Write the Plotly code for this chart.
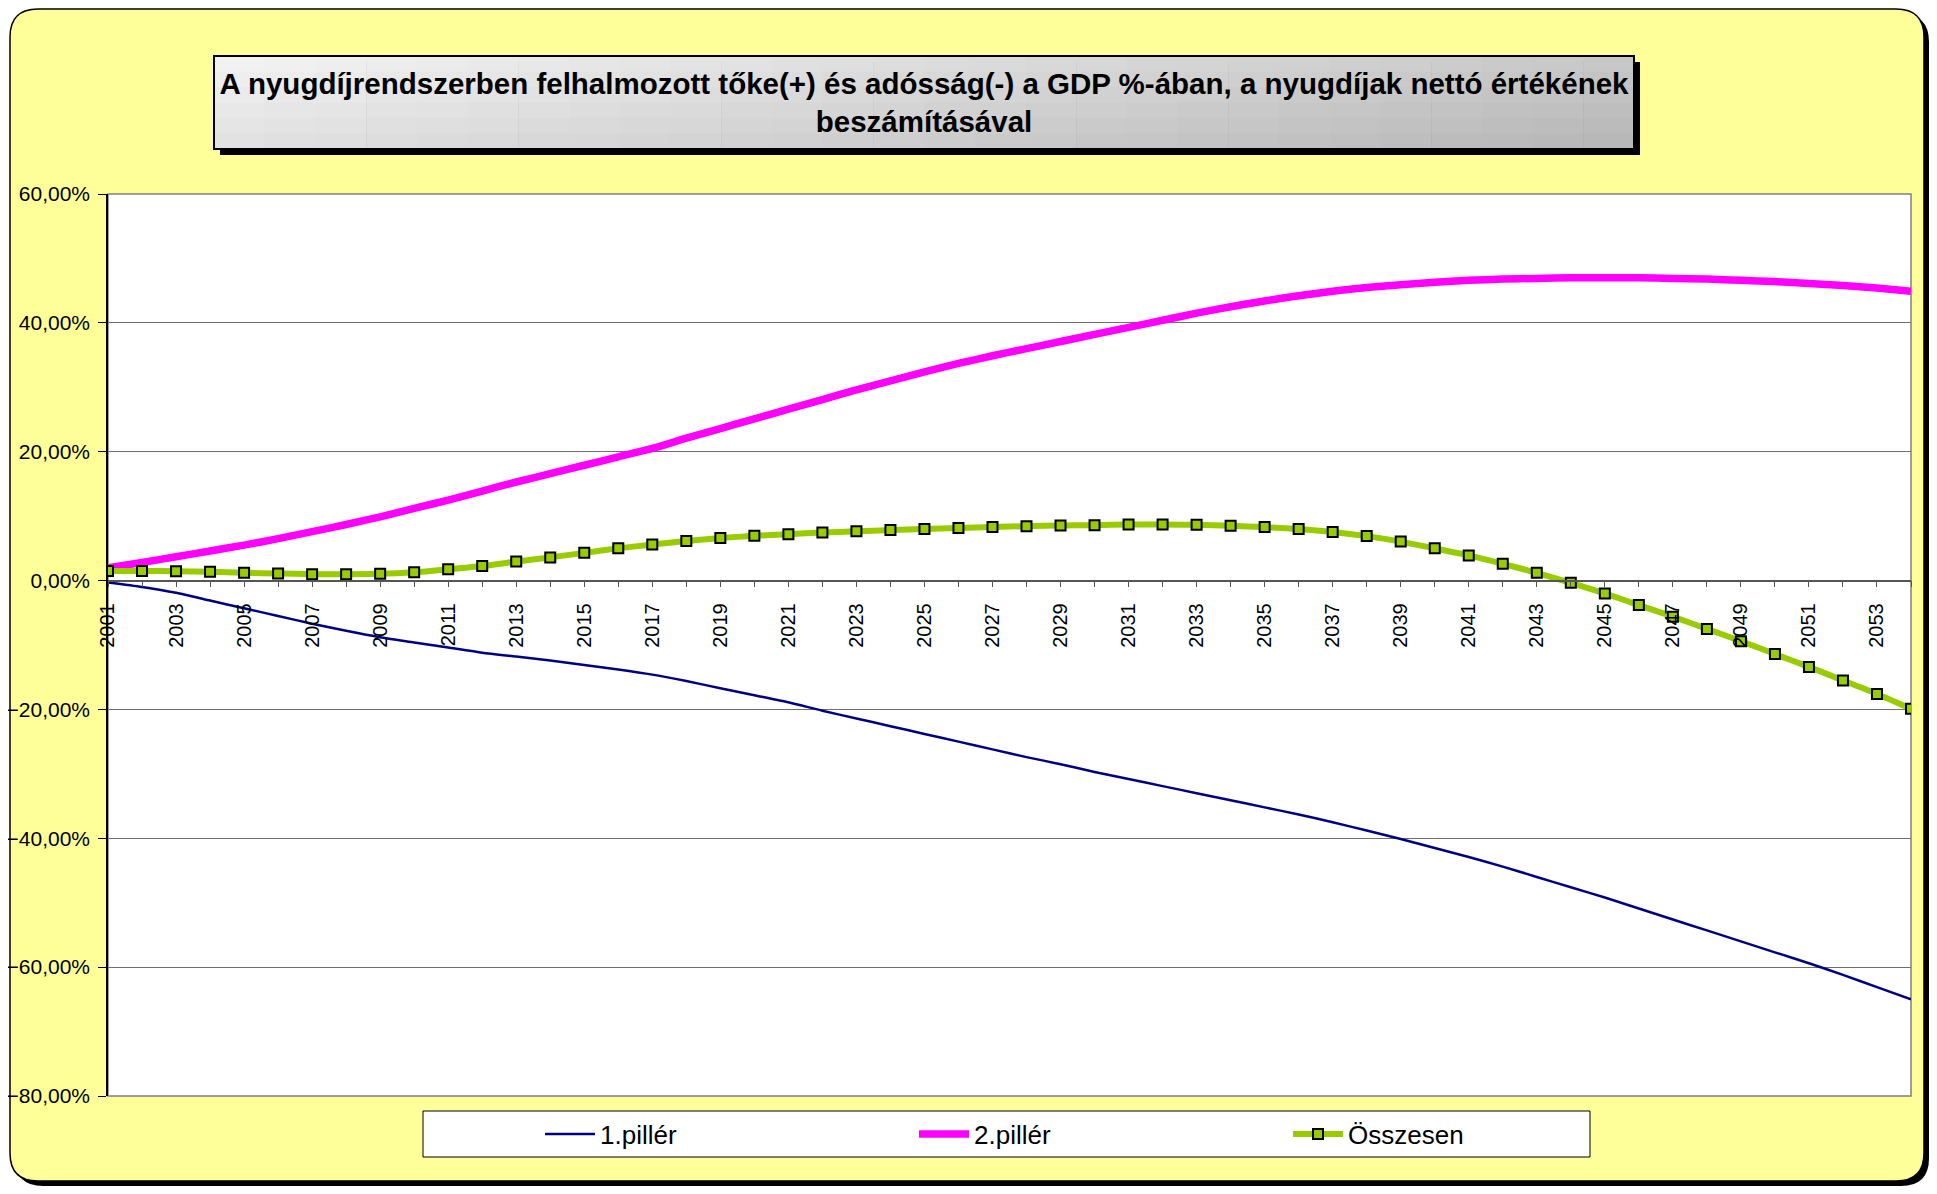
import plotly.graph_objects as go

YEARS = list(range(2001, 2055))

PILLAR_1 = [
    -0.3, -1.0, -1.9, -3.1, -4.3, -5.5, -6.7, -7.8, -8.8, -9.6,
    -10.4, -11.2, -11.8, -12.4, -13.1, -13.8, -14.6, -15.6, -16.7, -17.8,
    -18.9, -20.2, -21.4, -22.6, -23.8, -25.0, -26.2, -27.4, -28.5, -29.7,
    -30.8, -31.9, -33.0, -34.1, -35.2, -36.3, -37.5, -38.8, -40.1, -41.5,
    -42.9, -44.4, -46.0, -47.6, -49.2, -50.9, -52.6, -54.3, -56.0, -57.7,
    -59.4, -61.2, -63.1, -65.0,
]

PILLAR_2 = [
    2.0, 2.8, 3.7, 4.6, 5.5, 6.5, 7.6, 8.7, 9.9, 11.2,
    12.5, 13.9, 15.3, 16.6, 17.9, 19.2, 20.5, 22.1, 23.6, 25.1,
    26.6, 28.1, 29.6, 31.0, 32.4, 33.7, 34.9, 36.0, 37.1, 38.2,
    39.3, 40.4, 41.5, 42.5, 43.4, 44.2, 44.9, 45.5, 45.9, 46.3,
    46.6, 46.8, 46.9, 47.0, 47.0, 47.0, 46.9, 46.8, 46.6, 46.4,
    46.1, 45.8, 45.4, 44.9,
]

TOTAL = [
    1.5, 1.5, 1.45, 1.35, 1.2, 1.1, 1.0, 1.0, 1.05, 1.3,
    1.75, 2.25, 2.95, 3.6, 4.3, 5.0, 5.6, 6.15, 6.6, 6.95,
    7.2, 7.45, 7.65, 7.85, 8.0, 8.15, 8.3, 8.45, 8.55, 8.6,
    8.7, 8.7, 8.65, 8.5, 8.3, 8.0, 7.55, 6.9, 6.05, 5.0,
    3.9, 2.6, 1.2, -0.35, -2.0, -3.8, -5.6, -7.5, -9.4, -11.4,
    -13.4, -15.5, -17.6, -19.9,
]

SERIES_NAMES = ["1.pillér", "2.pillér", "Összesen"]
TITLE = ("A nyugdíjrendszerben felhalmozott tőke(+) és adósság(-) a GDP %-ában, "
         "a nyugdíjak nettó értékének<br>beszámításával")

FONT = "Liberation Sans, Arial, sans-serif"

# the page body has an 8px margin, so the figure is a bit smaller than the window
OFF = 8
FIG_W, FIG_H = 1937 - 2 * OFF, 1194 - 2 * OFF
# plot area, page pixels
L, R, T, B = 108, 1911, 194, 1096
Y_MIN, Y_MAX = -80, 60


def fx(px):
    return (px - L) / (R - L)


def fy(py):
    return (B - py) / (B - T)


def rounded_path(x0, y0, x1, y1, r):
    pts = [
        f"M{fx(x0 + r)},{fy(y0)}",
        f"L{fx(x1 - r)},{fy(y0)}",
        f"Q{fx(x1)},{fy(y0)} {fx(x1)},{fy(y0 + r)}",
        f"L{fx(x1)},{fy(y1 - r)}",
        f"Q{fx(x1)},{fy(y1)} {fx(x1 - r)},{fy(y1)}",
        f"L{fx(x0 + r)},{fy(y1)}",
        f"Q{fx(x0)},{fy(y1)} {fx(x0)},{fy(y1 - r)}",
        f"L{fx(x0)},{fy(y0 + r)}",
        f"Q{fx(x0)},{fy(y0)} {fx(x0 + r)},{fy(y0)}",
        "Z",
    ]
    return " ".join(pts)


def rect(x0, y0, x1, y1, fill, line_color=None, line_width=0):
    return dict(
        type="rect", xref="paper", yref="paper", layer="below",
        x0=fx(x0), x1=fx(x1), y0=fy(y1), y1=fy(y0),
        fillcolor=fill,
        line=dict(color=line_color or fill, width=line_width),
    )


shapes = []
# outer rounded frame with shadow (squeezed a little to fit inside the figure)
shapes.append(dict(type="path", xref="paper", yref="paper", layer="below",
                   path=rounded_path(15, 14, 1929, 1186, 28),
                   fillcolor="black", line=dict(width=0)))
shapes.append(dict(type="path", xref="paper", yref="paper", layer="below",
                   path=rounded_path(10, 9, 1924, 1181, 28),
                   fillcolor="#FFFF99", line=dict(color="black", width=1.5)))

# title box: shadow, gradient fill, border
TX0, TY0, TX1, TY1 = 214, 56, 1634, 149
shapes.append(rect(TX0 + 6, TY0 + 6, TX1 + 6, TY1 + 6, "black"))
cols, rows = 28, 6
for i in range(cols):
    for j in range(rows):
        u = (i + 0.5) / cols
        v = (j + 0.5) / rows
        g = int(244 - (0.7 * u + 0.3 * v) * 62)
        cx0 = TX0 + (TX1 - TX0) * i / cols
        cx1 = TX0 + (TX1 - TX0) * (i + 1) / cols + 0.6
        cy0 = TY0 + (TY1 - TY0) * j / rows
        cy1 = TY0 + (TY1 - TY0) * (j + 1) / rows + 0.6
        shapes.append(rect(cx0, cy0, cx1, cy1, f"rgb({g},{g},{g})"))
shapes.append(dict(type="rect", xref="paper", yref="paper", layer="below",
                   x0=fx(TX0), x1=fx(TX1), y0=fy(TY1), y1=fy(TY0),
                   fillcolor="rgba(0,0,0,0)", line=dict(color="black", width=2)))

# plot area
shapes.append(rect(L, T, R, B, "white", "#808080", 1.5))

# legend box
shapes.append(rect(423, 1111, 1590, 1157, "white", "black", 1))

fig = go.Figure()
fig.add_trace(go.Scatter(
    x=YEARS, y=PILLAR_1, name=SERIES_NAMES[0], mode="lines",
    line=dict(color="#000080", width=2.5, shape="spline", smoothing=0.6),
))
fig.add_trace(go.Scatter(
    x=YEARS, y=PILLAR_2, name=SERIES_NAMES[1], mode="lines",
    line=dict(color="#FF00FF", width=7.5, shape="spline", smoothing=0.6),
))
fig.add_trace(go.Scatter(
    x=YEARS, y=TOTAL, name=SERIES_NAMES[2], mode="lines+markers",
    line=dict(color="#99CC00", width=6, shape="spline", smoothing=0.6),
    marker=dict(symbol="square", size=10, color="#99CC00",
                line=dict(color="black", width=2)),
))

fig.update_layout(
    width=FIG_W, height=FIG_H,
    margin=dict(l=L - OFF, r=FIG_W - (R - OFF), t=T - OFF, b=FIG_H - (B - OFF), pad=0),
    paper_bgcolor="white",
    plot_bgcolor="rgba(0,0,0,0)",
    separators=", ",
    font=dict(family=FONT, color="black"),
    shapes=shapes,
    title=dict(
        text=TITLE, xref="container", yref="container",
        x=((TX0 + TX1) / 2 - OFF) / FIG_W,
        y=1 - ((TY0 + TY1) / 2 - 9 - OFF) / FIG_H,
        xanchor="center", yanchor="middle",
        font=dict(family=FONT, size=29.5, color="black", weight="bold"),
    ),
    showlegend=True,
    legend=dict(
        orientation="h", x=fx(540), y=fy(1134), xanchor="left", yanchor="middle",
        xref="paper", yref="paper",
        bgcolor="rgba(0,0,0,0)", borderwidth=0,
        entrywidth=309, entrywidthmode="pixels", itemwidth=50,
        font=dict(family=FONT, size=26, color="black"),
    ),
    xaxis=dict(
        range=[YEARS[0], YEARS[-1]], automargin=False,
        anchor="free", position=(0 - Y_MIN) / (Y_MAX - Y_MIN),
        showgrid=False, zeroline=False,
        showline=True, linecolor="#555555", linewidth=1.5,
        tick0=YEARS[0], dtick=2,
        ticks="outside", ticklen=6, tickcolor="#555555", tickwidth=1,
        minor=dict(dtick=1, ticks="outside", ticklen=6, tickcolor="#555555"),
        tickangle=-90, ticklabelstandoff=8,
        tickfont=dict(family=FONT, size=20, color="black"),
    ),
    yaxis=dict(
        range=[Y_MIN, Y_MAX], dtick=20, automargin=False,
        showgrid=True, gridcolor="#6E6E6E", gridwidth=1,
        zeroline=False,
        showline=True, linecolor="black", linewidth=1.5,
        ticks="outside", ticklen=8, tickcolor="black",
        tickformat=".2f", ticksuffix="%",
        ticklabelstandoff=4,
        tickfont=dict(family=FONT, size=21, color="black"),
    ),
)

fig.write_html("out.html")
